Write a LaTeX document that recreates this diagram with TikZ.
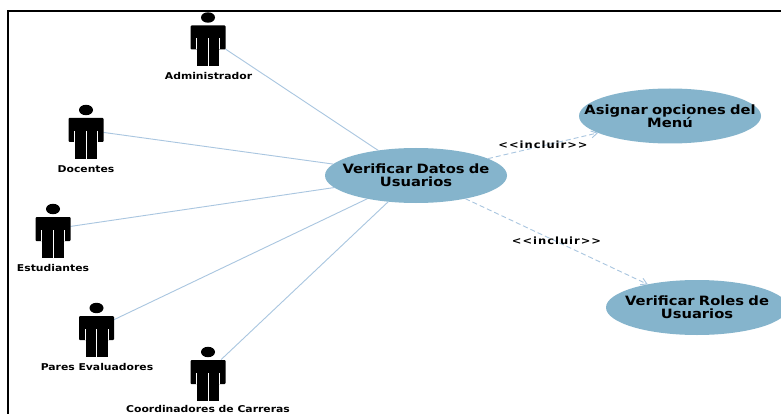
\documentclass[tikz,border=0pt]{standalone}
\usepackage{fontspec}
\setmainfont{DejaVu Sans}
\newfontfamily\widefont[FakeStretch=1.15]{DejaVu Sans}
\newfontfamily\spacedfont[FakeStretch=1.15,LetterSpace=10]{DejaVu Sans}
\usetikzlibrary{shapes.geometric,arrows.meta}
\definecolor{usecase}{HTML}{85B4CC}
\definecolor{assoc}{HTML}{A9C6E0}
\newcommand{\ucline}[1]{\makebox[100pt][c]{#1}}
\tikzset{
  x=1pt,y=-1pt,
  actorbox/.style={minimum width=35pt,minimum height=25pt,inner sep=0pt,outer sep=0pt},
  actorlabel/.style={font=\widefont\bfseries\fontsize{9.4}{10}\selectfont,inner sep=0pt,text=black},
  usecasenode/.style={ellipse,fill=usecase,minimum width=182pt,minimum height=55pt,inner sep=0pt,outer sep=0pt,text width=100pt,align=center,font=\widefont\bfseries\fontsize{12.8}{13}\selectfont,text=black},
  assocline/.style={draw=assoc,line width=0.9pt},
  includeline/.style={draw=assoc,line width=0.9pt,dash pattern=on 5pt off 3pt,-{Straight Barb[length=6pt,width=7pt]}},
  includelabel/.style={font=\spacedfont\bfseries\fontsize{10}{10}\selectfont,inner sep=0pt,text=black},
  actorshape/.pic={
    \fill[black] (0,-20) ellipse [x radius=7,y radius=5.2];
    \fill[black,rounded corners=1pt] (-17.5,12) -- (-17.5,-12) -- (17.5,-12) -- (17.5,12) -- cycle;
    \fill[black] (-11,0) rectangle (11,29);
    \draw[white,line width=0.8pt] (0,1) -- (0,29.5);
    \draw[white,line width=0.5pt] (-11.3,1) -- (-11.3,12);
    \draw[white,line width=0.5pt] (11.3,1) -- (11.3,12);
  }
}
\begin{document}
\begin{tikzpicture}
\useasboundingbox (0,0) rectangle (781,414);
\begin{scope}
\clip (0,0) rectangle (781,414);
\fill[white] (0,0) rectangle (781,414);
\draw[black,line width=1.4pt] (8,414) -- (8,11) -- (781,11);

\node[actorbox] (admin) at (208,37.5) {};
\node[actorbox] (doc) at (86,130) {};
\node[actorbox] (est) at (53,229) {};
\node[actorbox] (pares) at (96.5,328) {};
\node[actorbox] (coord) at (208,372) {};

\node[usecasenode] (verdatos) at (416,175.5) {\ucline{Verificar Datos de}\\\ucline{Usuarios}};
\node[usecasenode] (asignar) at (670,116) {\ucline{Asignar opciones del}\\\ucline{Menú}};
\node[usecasenode] (verroles) at (697,307.5) {\ucline{Verificar Roles de}\\\ucline{Usuarios}};

\draw[assocline] (admin) -- (verdatos);
\draw[assocline] (doc) -- (verdatos);
\draw[assocline] (est) -- (verdatos);
\draw[assocline] (pares) -- (verdatos);
\draw[assocline] (coord) -- (verdatos);
\draw[includeline] (verdatos) -- (asignar);
\draw[includeline] (verdatos) -- (verroles);

\pic at (admin.center) {actorshape};
\pic at (doc.center) {actorshape};
\pic at (est.center) {actorshape};
\pic at (pares.center) {actorshape};
\pic at (coord.center) {actorshape};

\node[actorlabel] (ladmin) at (208.5,76) {Administrador};
\node[actorlabel] (ldoc) at (86,169) {Docentes};
\node[actorlabel] (lest) at (53,268) {Estudiantes};
\node[actorlabel] (lpares) at (97,367) {Pares Evaluadores};
\node[actorlabel] (lcoord) at (208,409) {Coordinadores de Carreras};
\node[includelabel] (inc1) at (543,145) {<{}<incluir>{}>};
\node[includelabel] (inc2) at (556.5,241) {<{}<incluir>{}>};
\end{scope}
\end{tikzpicture}
\end{document}
